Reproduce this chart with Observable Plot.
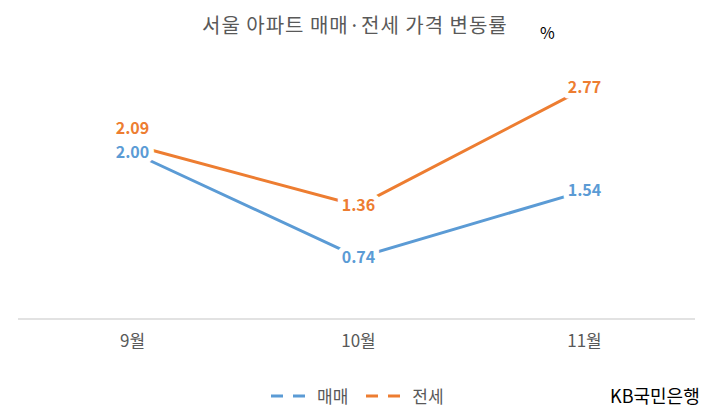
<!DOCTYPE html>
<html>
<head>
<meta charset="utf-8">
<script src="https://cdn.jsdelivr.net/npm/d3@7"></script>
<script src="https://cdn.jsdelivr.net/npm/@observablehq/plot@0.6"></script>
<style>
  body { margin: 0; background: #fff; font-family: "Noto Sans CJK KR", "Noto Sans", sans-serif; }
  #wrap { position: relative; width: 712px; height: 416px; overflow: hidden; }
  #title { position: absolute; left: 202px; top: 10px; font-size: 20px; letter-spacing: 1px; color: #595959; white-space: nowrap; }
  #pct { position: absolute; left: 540px; top: 20px; font-size: 16px; color: #000; }
  #legend { position: absolute; top: 383px; left: 270px; display: flex; align-items: center; font-size: 17px; color: #595959; }
  #legend .item { display: flex; align-items: center; margin-right: 17px; }
  #legend svg { margin-right: 5px; }
  #caption { position: absolute; left: 610px; top: 382px; font-size: 18px; color: #000; white-space: nowrap; }
  #chart { position: absolute; left: 0; top: 0; }
</style>
</head>
<body>
<div id="wrap">
  <div id="chart"></div>
  <div id="title">서울 아파트 매매·전세 가격 변동률</div>
  <div id="pct">%</div>
  <div id="legend"></div>
  <div id="caption">KB국민은행</div>
</div>
<script>
const months = ["9월", "10월", "11월"];
const seriesNames = ["매매", "전세"];
const sales = [2.00, 0.74, 1.54];
const jeonse = [2.09, 1.36, 2.77];
const colors = ["#5B9BD5", "#ED7D31"];

const rows = [];
months.forEach((m, i) => {
  rows.push({month: m, series: seriesNames[0], value: sales[i]});
  rows.push({month: m, series: seriesNames[1], value: jeonse[i]});
});

const isLifted = d => d.series === "전세" && d.month === "9월";
const labelOpts = (extra) => Object.assign({
  x: "month", y: "value", text: d => d.value.toFixed(2), fill: "series",
  fontSize: 16, fontWeight: "bold", stroke: "white", strokeWidth: 11,
  strokeLinejoin: "round", paintOrder: "stroke"
}, extra);

const chart = Plot.plot({
  width: 712,
  height: 416,
  marginLeft: 18,
  marginRight: 17,
  marginTop: 68.7,
  marginBottom: 97.4,
  style: { fontFamily: "'Noto Sans CJK KR', sans-serif", background: "transparent" },
  x: { type: "point", domain: months, range: [131, 584], padding: 0, axis: null },
  y: { domain: [0, 3], axis: null },
  color: { domain: seriesNames, range: colors },
  marks: [
    Plot.ruleY([0], { stroke: "#d9d9d9", strokeWidth: 1.5 }),
    Plot.axisX({ tickSize: 0, tickPadding: 16, fontSize: 17, fill: "#595959", stroke: null, label: null, fontFamily: "'Noto Sans CJK KR', sans-serif" }),
    Plot.lineY(rows, { x: "month", y: "value", z: "series", stroke: "series", strokeWidth: 3, strokeLinejoin: "round", strokeLinecap: "round" }),
    Plot.text(rows.filter(d => !isLifted(d)), labelOpts({})),
    Plot.text(rows.filter(isLifted), labelOpts({ dy: -16 }))
  ]
});
document.getElementById("chart").appendChild(chart);

const legend = document.getElementById("legend");
seriesNames.forEach((name, i) => {
  const item = document.createElement("div");
  item.className = "item";
  item.innerHTML = `<svg width="42" height="10"><line x1="1" y1="5" x2="41" y2="5" stroke="${colors[i]}" stroke-width="3" stroke-dasharray="12,10"/></svg><span>${name}</span>`;
  legend.appendChild(item);
});
</script>
</body>
</html>
